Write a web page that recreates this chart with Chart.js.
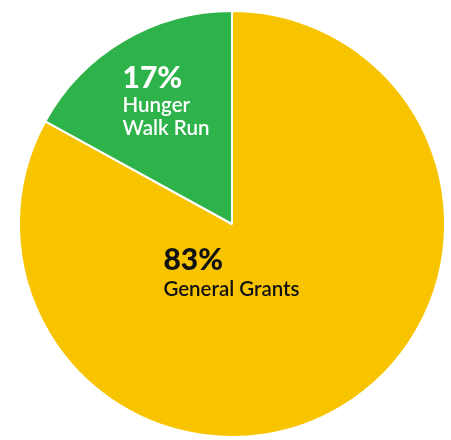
<!DOCTYPE html>
<html>
<head>
<meta charset="utf-8">
<script src="https://cdn.jsdelivr.net/npm/chart.js@4"></script>
<style>
    html, body { margin: 0; padding: 0; background: #fff; }
    #wrap { width: 451px; height: 440px; }
</style>
</head>
<body>
<div id="wrap"><canvas id="pieChart"></canvas></div>
<script>
// setup the data
const categories = ['General Grants', 'Hunger Walk Run'];
const shares = [83, 17];
const sliceColors = ['#f8c400', '#2db34a'];
const labelColors = ['#111111', '#ffffff'];

// label text drawn inside each slice
const labelPlugin = {
    id: 'sliceLabels',
    afterDatasetsDraw(chart) {
        const ctx = chart.ctx;
        const meta = chart.getDatasetMeta(0);
        const arc = meta.data[0];
        const cx = arc.x, cy = arc.y, r = arc.outerRadius;
        // positions relative to the pie centre, in radii
        const spots = [
            { x: cx - 0.322 * r, y: cy + 0.215 * r, lines: ['General Grants'], gap: 26 },
            { x: cx - 0.514 * r, y: cy - 0.64 * r, lines: ['Hunger', 'Walk Run'], gap: 24 }
        ];
        ctx.save();
        ctx.textAlign = 'left';
        ctx.textBaseline = 'alphabetic';
        spots.forEach((s, i) => {
            ctx.fillStyle = labelColors[i];
            ctx.font = '900 30px Lato, sans-serif';
            ctx.fillText(shares[i] + '%', s.x, s.y);
            ctx.font = '600 20.5px Lato, sans-serif';
            s.lines.forEach((t, j) => {
                ctx.fillText(t, s.x, s.y + s.gap + j * 23);
            });
        });
        ctx.restore();
    }
};

const configPie = {
    type: 'pie',
    data: {
        labels: categories,
        datasets: [{
            data: shares,
            backgroundColor: sliceColors,
            borderColor: '#ffffff',
            borderWidth: 2
        }]
    },
    options: {
        responsive: true,
        maintainAspectRatio: false,
        animation: false,
        layout: {
            padding: { top: 10, bottom: 2, left: 18, right: 5 }
        },
        plugins: {
            legend: { display: false },
            tooltip: { enabled: false }
        }
    },
    plugins: [labelPlugin]
};

const chartPercentage = new Chart(
    document.getElementById('pieChart'),
    configPie
);
</script>
</body>
</html>
